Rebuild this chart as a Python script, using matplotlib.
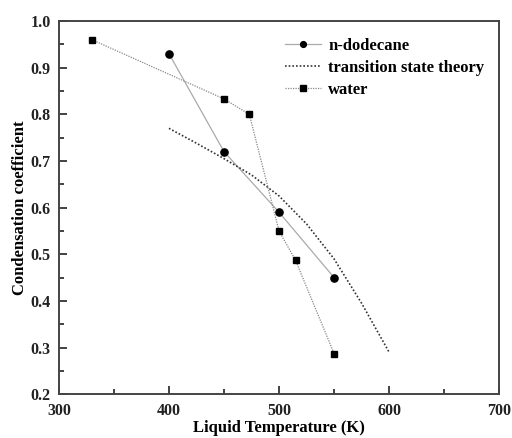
import matplotlib
matplotlib.use("Agg")
import matplotlib.pyplot as plt
from matplotlib.ticker import MultipleLocator, FormatStrFormatter

# data
dodecane_T = [400, 450, 500, 550]
dodecane_c = [0.93, 0.72, 0.59, 0.45]

water_T = [330, 450, 473, 500, 515, 550]
water_c = [0.96, 0.833, 0.80, 0.55, 0.487, 0.287]

tst_T = [400, 425, 450, 475, 500, 525, 550, 575, 600]
tst_c = [0.77, 0.738, 0.705, 0.67, 0.625, 0.565, 0.49, 0.395, 0.29]

plt.rcParams["font.family"] = ["Liberation Serif", "DejaVu Serif"]
plt.rcParams["font.weight"] = "bold"

fig, ax = plt.subplots(figsize=(5.12, 4.38), dpi=100)
fig.subplots_adjust(left=0.115, right=0.975, bottom=0.10, top=0.952)

ax.plot(dodecane_T, dodecane_c, color="#aaaaaa", lw=0.9, ls="-",
        marker="o", ms=5.2, mfc="black", mec="black", label="n-dodecane")
ax.plot(tst_T, tst_c, color="#333333", lw=1.2, ls=(0, (1, 1.2)),
        label="transition state theory")
ax.plot(water_T, water_c, color="#888888", lw=0.9, ls=(0, (1, 1)),
        marker="s", ms=4.8, mfc="black", mec="black", label="water")

ax.set_xlim(300, 700)
ax.set_ylim(0.2, 1.0)
ax.xaxis.set_major_locator(MultipleLocator(100))
ax.xaxis.set_minor_locator(MultipleLocator(50))
ax.yaxis.set_major_locator(MultipleLocator(0.1))
ax.yaxis.set_minor_locator(MultipleLocator(0.05))
ax.yaxis.set_major_formatter(FormatStrFormatter("%.1f"))

ax.tick_params(which="both", direction="in", top=False, right=False,
               labelsize=11.5, colors="#222222", width=1.2)
ax.tick_params(which="major", length=6, pad=6)
ax.tick_params(which="minor", length=3.5)
for s in ax.spines.values():
    s.set_linewidth(1.4)
    s.set_color("#444444")

ax.set_xlabel("Liquid Temperature (K)", fontsize=12, fontweight="bold", labelpad=1)
ax.set_ylabel("Condensation coefficient", fontsize=12, fontweight="bold", labelpad=2)

ax.legend(loc="upper right", frameon=False, fontsize=12, markerscale=0.8,
          handlelength=2.2, handletextpad=0.4, labelspacing=0.35,
          bbox_to_anchor=(1.0, 0.995))

fig.savefig("out.png", dpi=100)
